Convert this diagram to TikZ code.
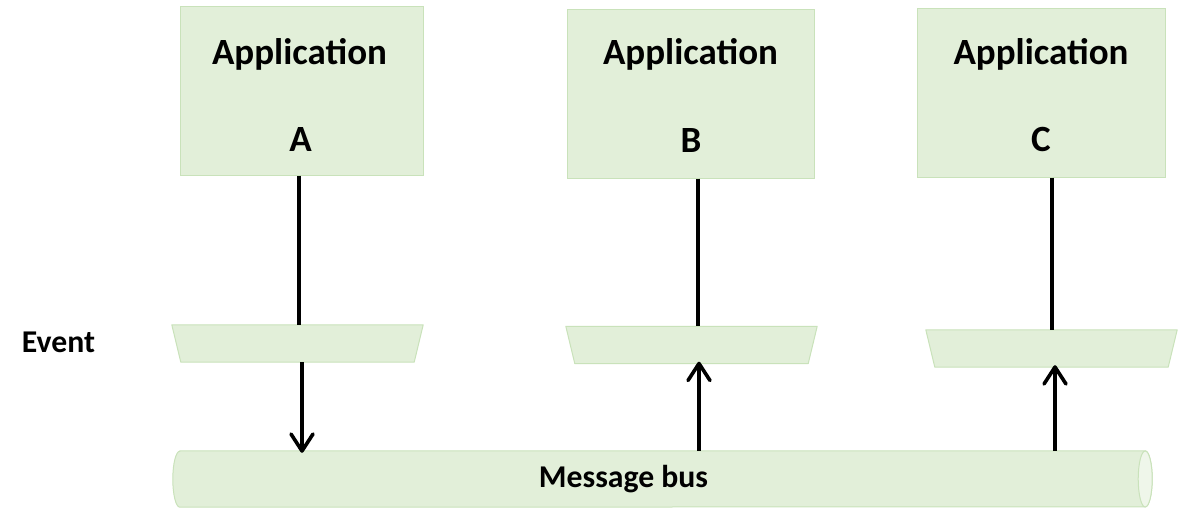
\documentclass[tikz,border=0pt]{standalone}
\usepackage{fontspec}
\setmainfont{Carlito}
\usetikzlibrary{calc,arrows.meta}
\definecolor{boxfill}{HTML}{E2EFD9}
\definecolor{boxedge}{HTML}{C9E2BA}
\definecolor{endfill}{HTML}{EFF6EA}
\tikzset{
  appbox/.style={draw=boxedge, fill=boxfill, line width=1pt, rectangle, minimum width=#1, minimum height=168pt, inner sep=0pt},
  evbox/.style={rectangle, minimum width=251pt, minimum height=37pt, inner sep=0pt},
  evshape/.style={draw=boxedge, fill=boxfill, line width=1pt, line join=round},
  lbl/.style={font=\bfseries\fontsize{37pt}{40pt}\selectfont, inner sep=0pt, anchor=base},
  small/.style={font=\bfseries\fontsize{31.7pt}{36pt}\selectfont},
  conn/.style={line width=3.6pt},
  arr/.style={line width=3.6pt, -{Straight Barb[length=17pt, width=22pt, line cap=round, line join=round]}, shorten >=-2pt},
}
\newcommand{\evtrap}[1]{%
  \path[evshape] (#1.north west) -- (#1.north east) -- ($(#1.south east)+(-9,0)$) -- ($(#1.south west)+(9,0)$) -- cycle;}
\begin{document}
\begin{tikzpicture}[x=1pt, y=1pt]
\useasboundingbox (0,0) rectangle (1178,-508);
% application boxes
\node[appbox=243pt] (boxA) at (301.5,-91) {};
\node[appbox=247pt] (boxB) at (690.5,-94) {};
\node[appbox=248pt] (boxC) at (1041,-93) {};
\node[lbl] (tA1) at (299.5,-64.5) {Application};
\node[lbl] (tA2) at (300.5,-151) {A};
\node[lbl] (tB1) at (690.5,-65) {Application};
\node[lbl] (tB2) at (691,-152.5) {B};
\node[lbl] (tC1) at (1041,-64.5) {Application};
\node[lbl] (tC2) at (1041,-151.5) {C};
% event trapezoids
\node[evbox] (trA) at (297.5,-343.5) {};
\node[evbox] (trB) at (691.5,-345) {};
\node[evbox] (trC) at (1051.5,-348.5) {};
\evtrap{trA}
\evtrap{trB}
\evtrap{trC}
\node[lbl, small] (ev) at (58.5,-352) {Event};
% message bus
\node[rectangle, minimum width=979pt, minimum height=56pt, inner sep=0pt] (bus) at (662.5,-479) {};
\path[draw=boxedge, fill=boxfill, line width=1pt]
  ($(bus.north west)+(7,0)$) -- ($(bus.north east)+(-7,0)$)
  arc[start angle=90, end angle=-90, x radius=7, y radius=28]
  -- ($(bus.south west)+(7,0)$)
  arc[start angle=270, end angle=90, x radius=7, y radius=28] -- cycle;
\path[draw=boxedge, fill=endfill, line width=1pt] ($(bus.east)+(-7,0)$) ellipse[x radius=7, y radius=28];
\node[lbl, small] (busl) at (623.5,-487) {Message bus};
% connector x positions
\coordinate (xA1) at (299,0);
\coordinate (xA2) at (302,0);
\coordinate (xB1) at (698,0);
\coordinate (xB2) at (699,0);
\coordinate (xC1) at (1052,0);
\coordinate (xC2) at (1055,0);
% connectors
\draw[conn] (boxA.south -| xA1) -- (trA.north -| xA1);
\draw[arr] (trA.south -| xA2) -- (bus.north -| xA2);
\draw[conn] (boxB.south -| xB1) -- (trB.north -| xB1);
\draw[arr] (bus.north -| xB2) -- (trB.south -| xB2);
\draw[conn] (boxC.south -| xC1) -- (trC.north -| xC1);
\draw[arr] (bus.north -| xC2) -- (trC.south -| xC2);
\end{tikzpicture}
\end{document}
